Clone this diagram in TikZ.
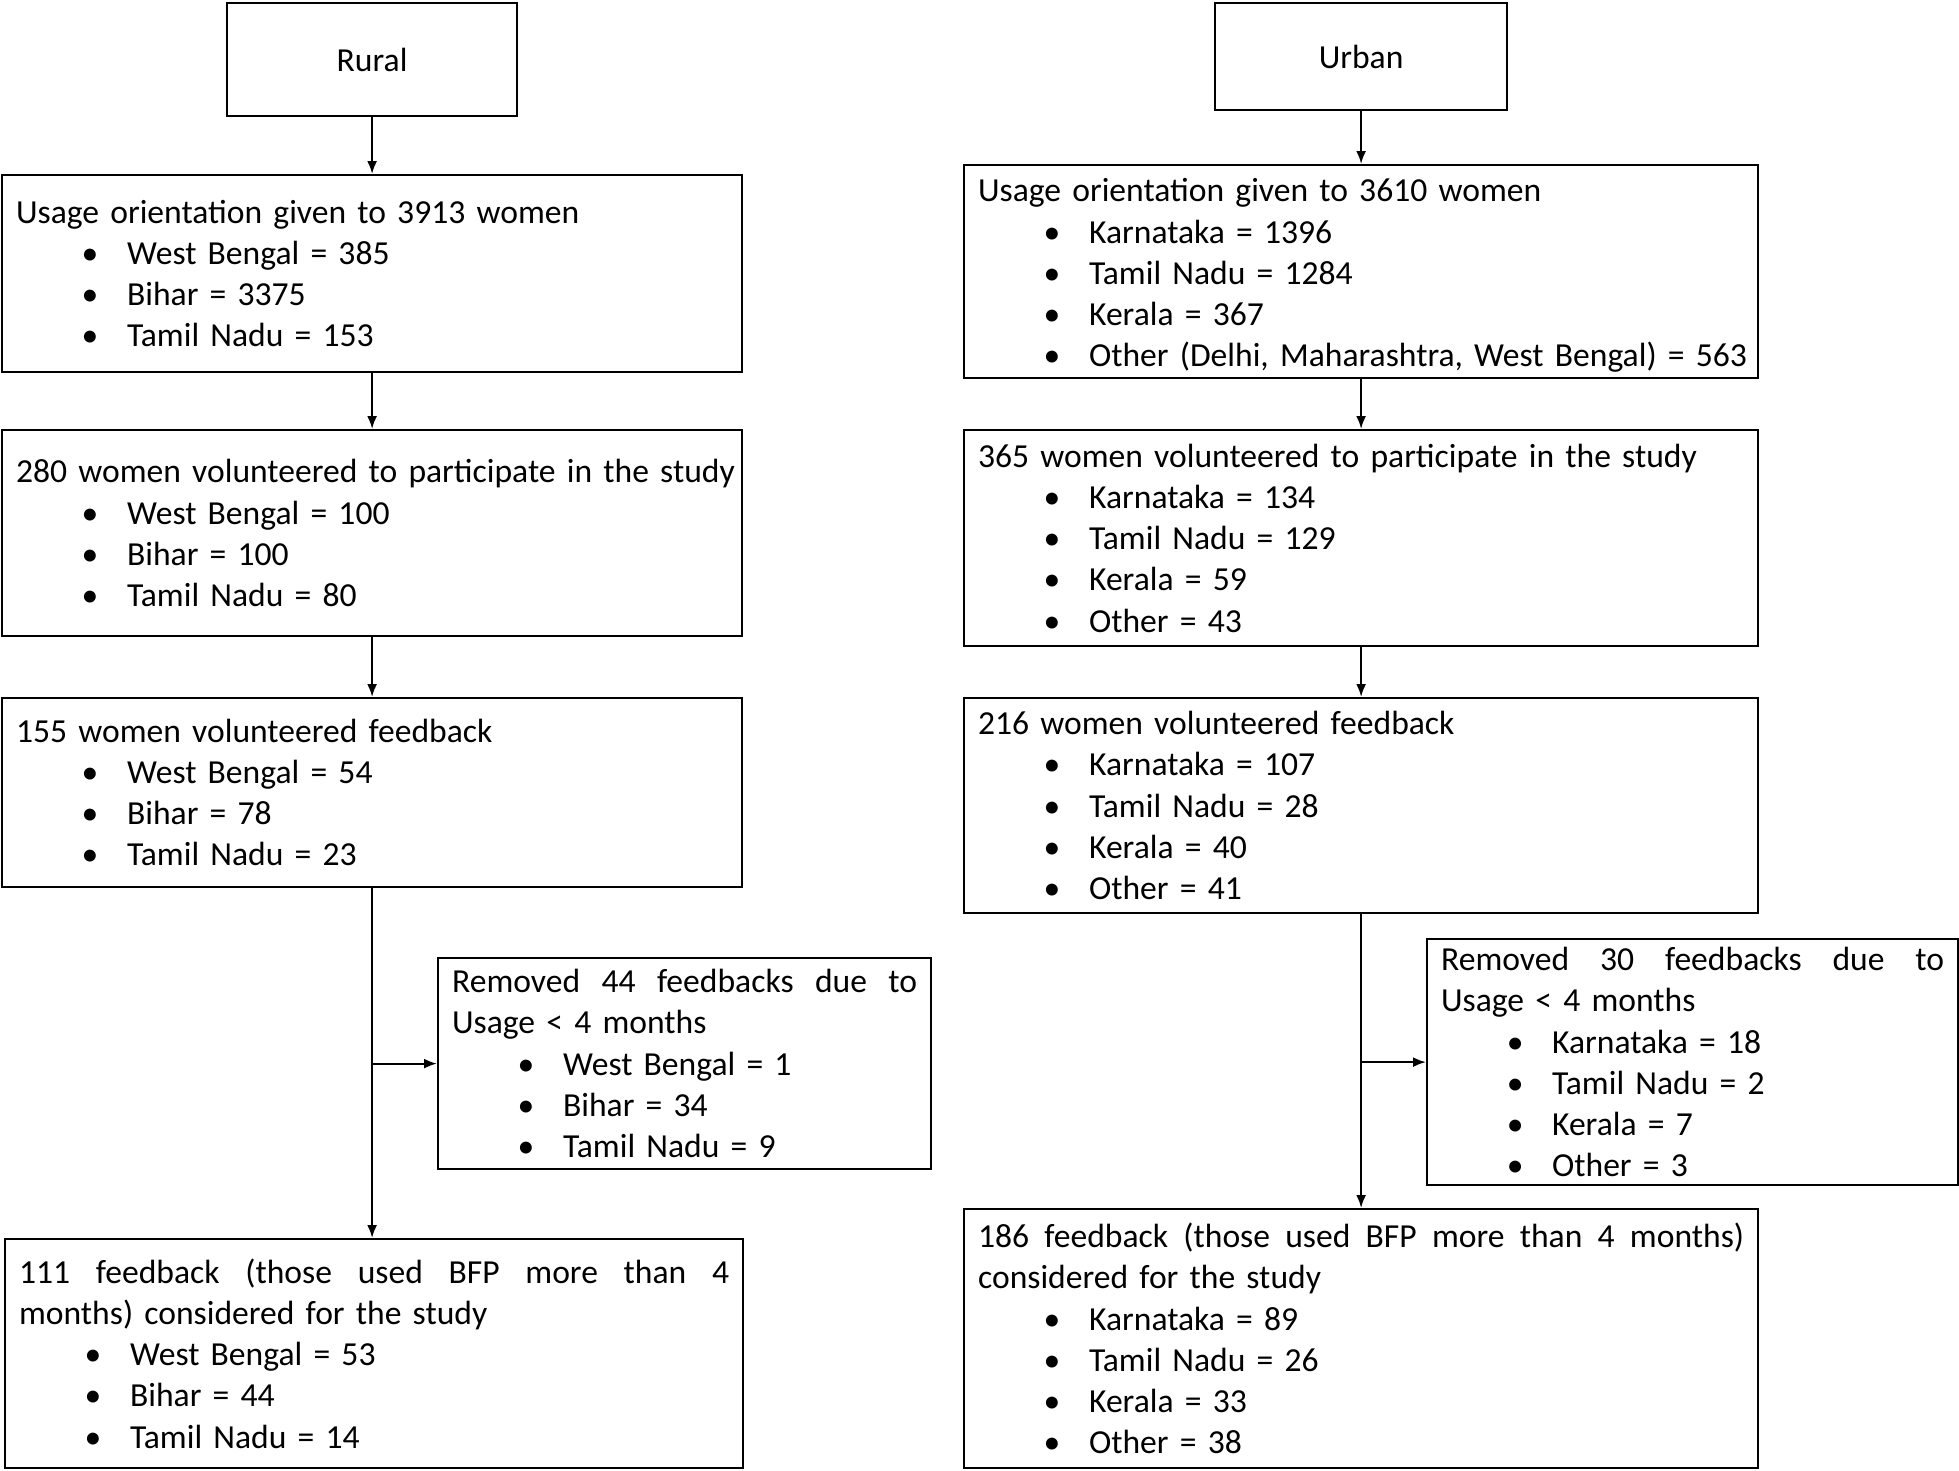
\documentclass[tikz,border=0pt]{standalone}
\usepackage{fontspec}
\setmainfont{Carlito}[WordSpace=0.5]
\usetikzlibrary{arrows.meta}
\tikzset{
  bx/.style={draw, line width=2.2pt, anchor=north west, inner xsep=14pt, inner ysep=0pt,
    align=left, font=\fontsize{33.6}{41.2}\selectfont},
  hd/.style={draw, line width=2.2pt, anchor=north west, inner sep=0pt,
    font=\fontsize{33.6}{41.2}\selectfont},
  ar/.style={line width=2.2pt, -{Latex[length=13pt,width=10pt]}},
}
\newcommand{\bl}[1]{\mbox{\hspace*{74pt}\makebox[0pt]{\textbullet}\hspace*{37pt}#1}}
\newcommand{\oneln}[1]{\mbox{#1}}
\begin{document}
\begin{tikzpicture}[x=1pt,y=-1pt]
\useasboundingbox (0,0) rectangle (1959,1470);
% headers
\node[hd, minimum width=290pt, minimum height=113pt] (rural) at (226,2) {Rural};
\node[hd, minimum width=292pt, minimum height=107pt] (urban) at (1214,2) {Urban};
% rural column
\node[bx, text width=712pt, minimum height=197pt] (uL) at (1,174) {\oneln{Usage orientation given to 3913 women}\\
\bl{West Bengal = 385}\\ \bl{Bihar = 3375}\\ \bl{Tamil Nadu = 153}};
\node[bx, text width=712pt, minimum height=206pt] (vL) at (1,429) {\oneln{280 women volunteered to participate in the study}\\
\bl{West Bengal = 100}\\ \bl{Bihar = 100}\\ \bl{Tamil Nadu = 80}};
\node[bx, text width=712pt, minimum height=189pt] (fL) at (1,697) {\oneln{155 women volunteered feedback}\\
\bl{West Bengal = 54}\\ \bl{Bihar = 78}\\ \bl{Tamil Nadu = 23}};
\node[bx, text width=465pt, minimum height=211pt] (rL) at (437,957) {\makebox[465pt]{Removed\hfill 44\hfill feedbacks\hfill due\hfill to}\\ \oneln{Usage < 4 months}\\
\bl{West Bengal = 1}\\ \bl{Bihar = 34}\\ \bl{Tamil Nadu = 9}};
\node[bx, text width=710pt, minimum height=229pt] (eL) at (4,1238) {\makebox[710pt]{111\hfill feedback\hfill (those\hfill used\hfill BFP\hfill more\hfill than\hfill 4}\\ \oneln{months) considered for the study}\\
\bl{West Bengal = 53}\\ \bl{Bihar = 44}\\ \bl{Tamil Nadu = 14}};
% urban column
\node[bx, text width=766pt, minimum height=213pt] (uR) at (963,164) {\oneln{\rule{0pt}{31pt}Usage orientation given to 3610 women}\\
\bl{Karnataka = 1396}\\ \bl{Tamil Nadu = 1284}\\ \bl{Kerala = 367}\\ \bl{Other (Delhi, Maharashtra, West Bengal) = 563}};
\node[bx, text width=766pt, minimum height=216pt] (vR) at (963,429) {\oneln{365 women volunteered to participate in the study}\\
\bl{Karnataka = 134}\\ \bl{Tamil Nadu = 129}\\ \bl{Kerala = 59}\\ \bl{Other = 43}};
\node[bx, text width=766pt, minimum height=215pt] (fR) at (963,697) {\oneln{216 women volunteered feedback}\\
\bl{Karnataka = 107}\\ \bl{Tamil Nadu = 28}\\ \bl{Kerala = 40}\\ \bl{Other = 41}};
\node[bx, text width=503pt, minimum height=246pt] (rR) at (1426,938) {\makebox[503pt]{Removed\hfill 30\hfill feedbacks\hfill due\hfill to}\\ \oneln{Usage < 4 months}\\
\bl{Karnataka = 18}\\ \bl{Tamil Nadu = 2}\\ \bl{Kerala = 7}\\ \bl{Other = 3}};
\node[bx, text width=766pt, minimum height=259pt] (eR) at (963,1208) {\makebox[766pt]{186\hfill feedback\hfill (those\hfill used\hfill BFP\hfill more\hfill than\hfill 4\hfill months)}\\ \oneln{considered for the study}\\
\bl{Karnataka = 89}\\ \bl{Tamil Nadu = 26}\\ \bl{Kerala = 33}\\ \bl{Other = 38}};
% connectors
\draw[ar] (rural.south) -- (rural.south |- uL.north);
\draw[ar] (uL.south) -- (vL.north);
\draw[ar] (vL.south) -- (fL.north);
\draw[ar] (fL.south) -- (fL.south |- eL.north);
\draw[ar] (fL.south |- rL.west) -- (rL.west);
\draw[ar] (urban.south) -- (urban.south |- uR.north);
\draw[ar] (uR.south) -- (vR.north);
\draw[ar] (vR.south) -- (fR.north);
\draw[ar] (fR.south) -- (eR.north);
\draw[ar] (fR.south |- rR.west) -- (rR.west);
\end{tikzpicture}
\end{document}
